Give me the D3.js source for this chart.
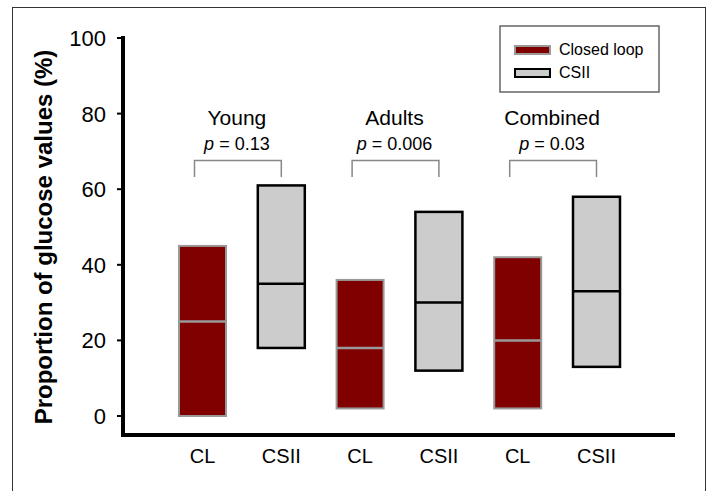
<!DOCTYPE html>
<meta charset="utf-8">
<style>
body { margin: 0; background: #fff; }
text { font-family: Arial, 'Liberation Sans', sans-serif; fill: #000; }
</style>
<body>
<script src="https://d3js.org/d3.v7.min.js"></script>
<script>

const groups = ["Young", "Adults", "Combined"],
      pValues = ["0.13", "0.006", "0.03"],
      arms = ["CL", "CSII"],
      lows = [0, 18, 2, 12, 2, 13],
      medians = [25, 35, 18, 30, 20, 33],
      highs = [45, 61, 36, 54, 42, 58],
      yTicks = [0, 20, 40, 60, 80, 100];

const width = 711, height = 491;

let svg = d3.select("body").append("svg")
            .attr("width", width)
            .attr("height", height);

// outer frame
svg.append("rect")
    .attr("x", 12.5).attr("y", 7.5)
    .attr("width", 693).attr("height", 500)
    .attr("fill", "none")
    .attr("stroke", "#333")
    .attr("stroke-width", 1);

let bars = [];
groups.forEach((g, gi) => arms.forEach((a, ai) => {
    let i = gi * 2 + ai;
    bars.push({id: g + a, group: g, arm: a, low: lows[i], med: medians[i], high: highs[i]});
}));

let y = d3.scaleLinear().domain([0, 100]).range([416, 38]),
    x = d3.scalePoint().domain(bars.map(d => d.id)).range([202.5, 596.5]),
    barW = 47;

// axes
svg.append("line")
    .attr("x1", 123).attr("x2", 123)
    .attr("y1", 36).attr("y2", 437)
    .attr("stroke", "#000").attr("stroke-width", 4);
svg.append("line")
    .attr("x1", 121).attr("x2", 675)
    .attr("y1", 435).attr("y2", 435)
    .attr("stroke", "#000").attr("stroke-width", 4);

let ticks = svg.append("g").selectAll("g")
    .data(yTicks)
    .join("g")
      .attr("transform", d => `translate(0,${y(d)})`);
ticks.append("line")
    .attr("x1", 117).attr("x2", 123)
    .attr("stroke", "#000").attr("stroke-width", 2);
ticks.append("text")
    .attr("x", 106)
    .attr("dy", "0.36em")
    .attr("text-anchor", "end")
    .style("font-size", "22px")
    .text(d => d);

svg.append("text")
    .attr("transform", "translate(52,237) rotate(-90)")
    .attr("text-anchor", "middle")
    .style("font-size", "24px")
    .style("font-weight", "bold")
    .text("Proportion of glucose values (%)");

// boxes
let box = svg.append("g").selectAll("g")
    .data(bars)
    .join("g");
box.append("rect")
    .attr("x", d => x(d.id) - barW / 2)
    .attr("y", d => y(d.high))
    .attr("width", barW)
    .attr("height", d => y(d.low) - y(d.high))
    .attr("fill", d => d.arm == "CL" ? "#800000" : "#cccccc")
    .attr("stroke", d => d.arm == "CL" ? "#999" : "#000")
    .attr("stroke-width", d => d.arm == "CL" ? 2 : 2.5);
box.append("line")
    .attr("x1", d => x(d.id) - barW / 2)
    .attr("x2", d => x(d.id) + barW / 2)
    .attr("y1", d => y(d.med))
    .attr("y2", d => y(d.med))
    .attr("stroke", d => d.arm == "CL" ? "#999" : "#000")
    .attr("stroke-width", 2.5);

svg.append("g").selectAll("text")
    .data(bars)
    .join("text")
      .attr("x", d => x(d.id))
      .attr("y", 463)
      .attr("text-anchor", "middle")
      .style("font-size", "20px")
      .text(d => d.arm);

// group labels and brackets
let grp = svg.append("g").selectAll("g")
    .data(groups.map((g, i) => ({name: g, p: pValues[i]})))
    .join("g");
grp.append("text")
    .attr("x", d => (x(d.name + "CL") + x(d.name + "CSII")) / 2 - 5)
    .attr("y", 125)
    .attr("text-anchor", "middle")
    .style("font-size", "21px")
    .text(d => d.name);
let pt = grp.append("text")
    .attr("x", d => (x(d.name + "CL") + x(d.name + "CSII")) / 2 - 5)
    .attr("y", 150)
    .attr("text-anchor", "middle")
    .style("font-size", "18px");
pt.append("tspan").style("font-style", "italic").text("p");
pt.append("tspan").text(d => " = " + d.p);
grp.append("path")
    .attr("d", d => {
        let x0 = x(d.name + "CL") - 8, x1 = x(d.name + "CSII");
        return `M${x0},177V160.5H${x1}V177`;
    })
    .attr("fill", "none")
    .attr("stroke", "#888")
    .attr("stroke-width", 1.5);

// legend
let legend = svg.append("g").attr("transform", "translate(500,26)");
legend.append("rect")
    .attr("width", 159).attr("height", 66)
    .attr("fill", "#fff")
    .attr("stroke", "#666").attr("stroke-width", 1.5);
let li = legend.selectAll("g")
    .data([{label: "Closed loop", arm: "CL"}, {label: "CSII", arm: "CSII"}])
    .join("g")
      .attr("transform", (d, i) => `translate(0,${i * 23})`);
li.append("rect")
    .attr("x", 15).attr("y", 20)
    .attr("width", 35).attr("height", 8)
    .attr("fill", d => d.arm == "CL" ? "#800000" : "#cccccc")
    .attr("stroke", d => d.arm == "CL" ? "#999" : "#000")
    .attr("stroke-width", 2);
li.append("text")
    .attr("x", 59).attr("y", 29)
    .style("font-size", "16px")
    .text(d => d.label);

</script>
